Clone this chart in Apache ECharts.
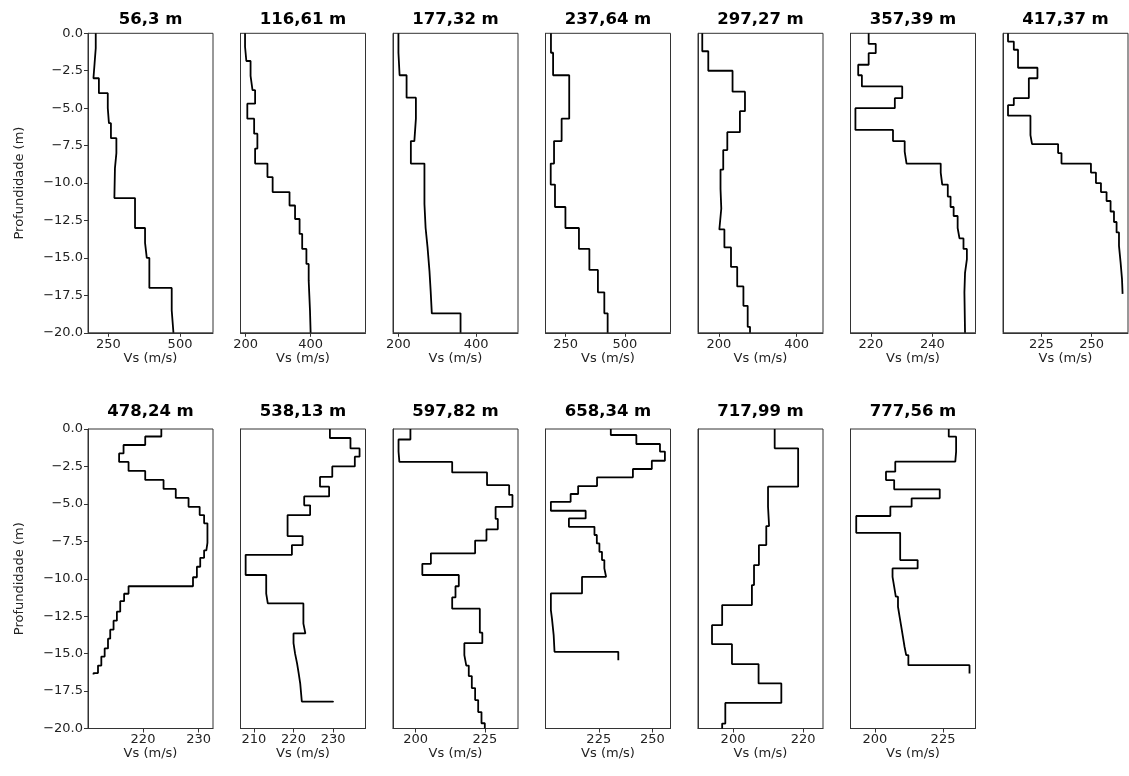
<!DOCTYPE html>
<html><head><meta charset="utf-8">
<script src="https://cdn.jsdelivr.net/npm/echarts@6/dist/echarts.min.js"></script>
<style>html,body{margin:0;padding:0;background:#fff}#c{width:1129px;height:776px}</style>
</head><body><div id="c"></div>
<script>
// ---- Data: layer bottom depths (m) and Vs (m/s) per layer ----
const titles = ['56,3 m','116,61 m','177,32 m','237,64 m','297,27 m','357,39 m','417,37 m',
                '478,24 m','538,13 m','597,82 m','658,34 m','717,99 m','777,56 m'];

const p1Depth = [1,2,3,4,5,6,7,8,9,11,13,14,15,17,18.5,20];
const p1Vs    = [206,202,198,217,248,252,259,278,273,271,343,378,384,393,471,477];

const p2Depth = [0.9,1.85,2.85,3.8,4.7,5.7,6.7,7.7,8.7,9.6,10.6,11.5,12.4,13.4,14.4,15.4,16.5,17.5,18.5,20];
const p2Vs    = [198,202,215,221,229,205,226,236,229,267,283,335,352,366,374,387,394,396,398,400];

const p3Depth = [1.3,2.8,4.3,5.7,7.2,8.7,11.4,13,14.3,15.9,17.2,18.7,20];
const p3Vs    = [200,203,221,245,241,232,267,270,275,280,283,286,360];

const p4Depth = [1.3,2.8,5.7,7.2,8.7,10.1,11.6,13,14.4,15.8,17.3,18.7,20];
const p4Vs    = [188,197,265,233,201,187,205,249,306,350,386,413,427];

const p5Depth = [1.2,2.5,3.9,5.2,6.6,7.8,9.1,10.4,11.7,13.1,14.3,15.6,16.9,18.2,19.6,20];
const p5Vs    = [157,172.5,235,267,254,221.5,211,204,206,201,214,231,247,263,274,280];

const p6Depth = [0.7,1.33,2.1,2.8,3.55,4.33,5.0,6.45,7.2,7.9,8.7,9.3,10.1,10.9,11.6,12.2,13.0,13.7,14.4,15.1,16.0,17.3,20];
const p6Vs    = [219.3,221.6,219.3,215.9,217.1,230.2,227.8,215.0,227.2,231.0,231.6,242.7,243.2,245.0,245.9,246.9,248.2,248.8,250.1,251.2,250.6,250.4,250.6];

const p7Depth = [0.55,1.1,2.3,3.0,4.33,4.8,5.5,6.8,7.4,8.0,8.7,9.3,10.0,10.6,11.2,11.9,12.6,13.3,14.2,15.3,16.4,17.4];
const p7Vs    = [208.3,211.2,213.3,223.0,218.7,211.2,208.3,219.5,220.3,233.3,235.0,249.7,252.2,254.7,257.5,259.5,261.2,262.5,263.7,264.5,265.2,265.5];

const p8Depth = [0.5,1.07,1.63,2.2,2.8,3.4,4.0,4.6,5.2,5.75,6.3,7.6,8.1,8.6,9.2,9.9,10.5,11.0,11.5,12.2,12.8,13.4,14.0,14.65,15.2,15.8,16.3,16.4];
const p8Vs    = [223.3,220.4,216.5,215.7,217.4,220.4,223.7,225.9,228.2,230.2,231.0,231.6,231.4,231.0,230.3,229.7,229.0,217.4,216.6,215.9,215.3,214.7,214.1,213.7,213.1,212.5,211.9,211.1];

const p9Depth = [0.6,1.3,1.85,2.5,3.2,3.85,4.5,5.1,5.75,7.15,7.75,8.4,9.75,11.0,11.65,13.0,13.65,14.3,15.0,15.65,16.3,17.0,18.2,18.25];
const p9Vs    = [229.2,234.4,236.7,235.5,229.8,226.7,229.0,222.7,224.2,218.5,222.3,219.6,207.9,213.1,213.5,222.5,223.0,220.0,220.4,220.9,221.3,221.7,222.1,230.0];

const p10Depth = [0.7,1.5,2.2,2.9,3.75,4.4,5.2,6.0,6.7,7.45,8.3,9.0,9.75,10.5,11.25,12.0,13.6,14.3,15.1,15.8,16.5,17.3,18.1,18.9,19.65,20];
const p10Vs    = [198.1,193.8,194.1,213.2,225.8,233.8,235.0,228.9,229.7,225.6,221.5,205.5,202.4,215.6,214.4,213.2,223.2,224.1,217.6,218.3,219.2,220.3,221.5,222.6,223.8,225.0];

const p11Depth = [0.4,1.0,1.51,2.12,2.67,3.23,3.81,4.34,4.86,5.46,5.97,6.53,7.08,7.64,8.2,8.75,9.31,9.87,10.98,12.09,12.65,13.76,14.88,15.44];
const p11Vs    = [230.6,242.5,253.5,255.8,249.7,240.9,224.2,215.4,211.9,202.7,218.9,211.1,223.0,224.1,225.3,226.5,227.6,228.4,217.2,202.7,203.2,204.0,204.4,234.1];

const p12Depth = [1.29,3.85,5.19,6.48,7.75,9.09,10.42,11.76,13.1,14.37,15.7,16.99,18.29,19.67,20];
const p12Vs    = [211.9,218.6,210.0,210.3,209.5,207.4,206.0,205.4,196.9,194.0,199.7,207.3,213.8,197.8,196.9];

const p13Depth = [0.51,1.51,2.18,2.85,3.41,4.03,4.63,5.19,5.81,6.93,8.75,9.31,9.87,10.53,11.2,11.87,12.54,13.2,13.87,14.54,15.1,15.77,16.33];
const p13Vs    = [227.1,229.8,229.5,207.5,204.1,207.1,223.8,213.5,205.7,193.2,209.3,215.7,206.5,207.1,207.7,208.5,209.1,209.7,210.3,210.9,211.5,212.3,234.7];

// axis ranges and tick labels (Vs)
const xMin = [179,184,186,165,146,213.4,205.8,210.1,206.6,191.8,200.2,190,191.1];
const xMax = [615,569,508,692,468,254.0,268.2,232.6,238.2,237.0,258.4,225.7,236.9];
const xTicks = [[250,500],[200,400],[200,400],[250,500],[200,400],[220,240],[225,250],
                [220,230],[210,220,230],[200,225],[225,250],[200,220],[200,225]];
const depthTicks = [0,-2.5,-5,-7.5,-10,-12.5,-15,-17.5,-20];

const depths = [p1Depth,p2Depth,p3Depth,p4Depth,p5Depth,p6Depth,p7Depth,p8Depth,p9Depth,p10Depth,p11Depth,p12Depth,p13Depth];
const vss    = [p1Vs,p2Vs,p3Vs,p4Vs,p5Vs,p6Vs,p7Vs,p8Vs,p9Vs,p10Vs,p11Vs,p12Vs,p13Vs];

function stepPoints(depth, vs) {
  const pts = [];
  let top = 0;
  for (let i = 0; i < vs.length; i++) {
    pts.push([vs[i], -top]);
    pts.push([vs[i], -depth[i]]);
    top = depth[i];
  }
  return pts;
}

const FONT = 'DejaVu Sans';
const PW = 125, PITCH = 152.5, L0 = 88;
const rowTop = [33.3, 429], rowH = [299.5, 299.5];
const titleY = [20, 412];

const grid = [], xAxis = [], yAxis = [], series = [], graphic = [];
titles.forEach((t, i) => {
  const row = i < 7 ? 0 : 1;
  const col = i < 7 ? i : i - 7;
  const left = L0 + col * PITCH;
  grid.push({left: left, top: rowTop[row], width: PW, height: rowH[row],
    show: true, borderColor: '#333', borderWidth: 1, backgroundColor: 'transparent', containLabel: false});
  xAxis.push({
    gridIndex: i, type: 'value', min: xMin[i], max: xMax[i],
    axisLine: {show: true, onZero: false, lineStyle: {color: '#333', width: 1}},
    splitLine: {show: false},
    axisTick: {show: true, customValues: xTicks[i], length: 4, lineStyle: {color: '#333'}},
    axisLabel: {customValues: xTicks[i], margin: 5, color: '#222', fontSize: 13, fontFamily: FONT},
    name: 'Vs (m/s)', nameLocation: 'middle', nameGap: 18,
    nameTextStyle: {color: '#222', fontSize: 13, fontFamily: FONT}
  });
  const first = col === 0;
  yAxis.push({
    gridIndex: i, type: 'value', min: -20, max: 0, interval: 2.5,
    axisLine: {show: true, onZero: false, lineStyle: {color: '#333', width: 1}},
    splitLine: {show: false},
    axisTick: {show: first, length: 4, lineStyle: {color: '#333'}},
    axisLabel: {show: first, margin: 5, color: '#222', fontSize: 13, fontFamily: FONT,
      formatter: v => (v < 0 ? '\u2212' : '') + Math.abs(v).toFixed(1)},
    name: first ? 'Profundidade (m)' : '', nameLocation: 'middle', nameGap: 62, nameRotate: 90,
    nameTextStyle: {color: '#222', fontSize: 13, fontFamily: FONT}
  });
  series.push({
    type: 'line', xAxisIndex: i, yAxisIndex: i,
    data: stepPoints(depths[i], vss[i]),
    symbol: 'none', showSymbol: false, clip: true,
    lineStyle: {color: '#000', width: 1.8}
  });
  graphic.push({type: 'text', x: left + PW / 2, y: titleY[row],
    style: {text: t, align: 'center', verticalAlign: 'middle', fill: '#000',
      font: 'bold 16.5px "DejaVu Sans"'}});
});

const chart = echarts.init(document.getElementById('c'), null, {renderer: 'canvas'});
chart.setOption({
  animation: false,
  backgroundColor: '#fff',
  grid, xAxis, yAxis, series, graphic
});
</script>
</body></html>
